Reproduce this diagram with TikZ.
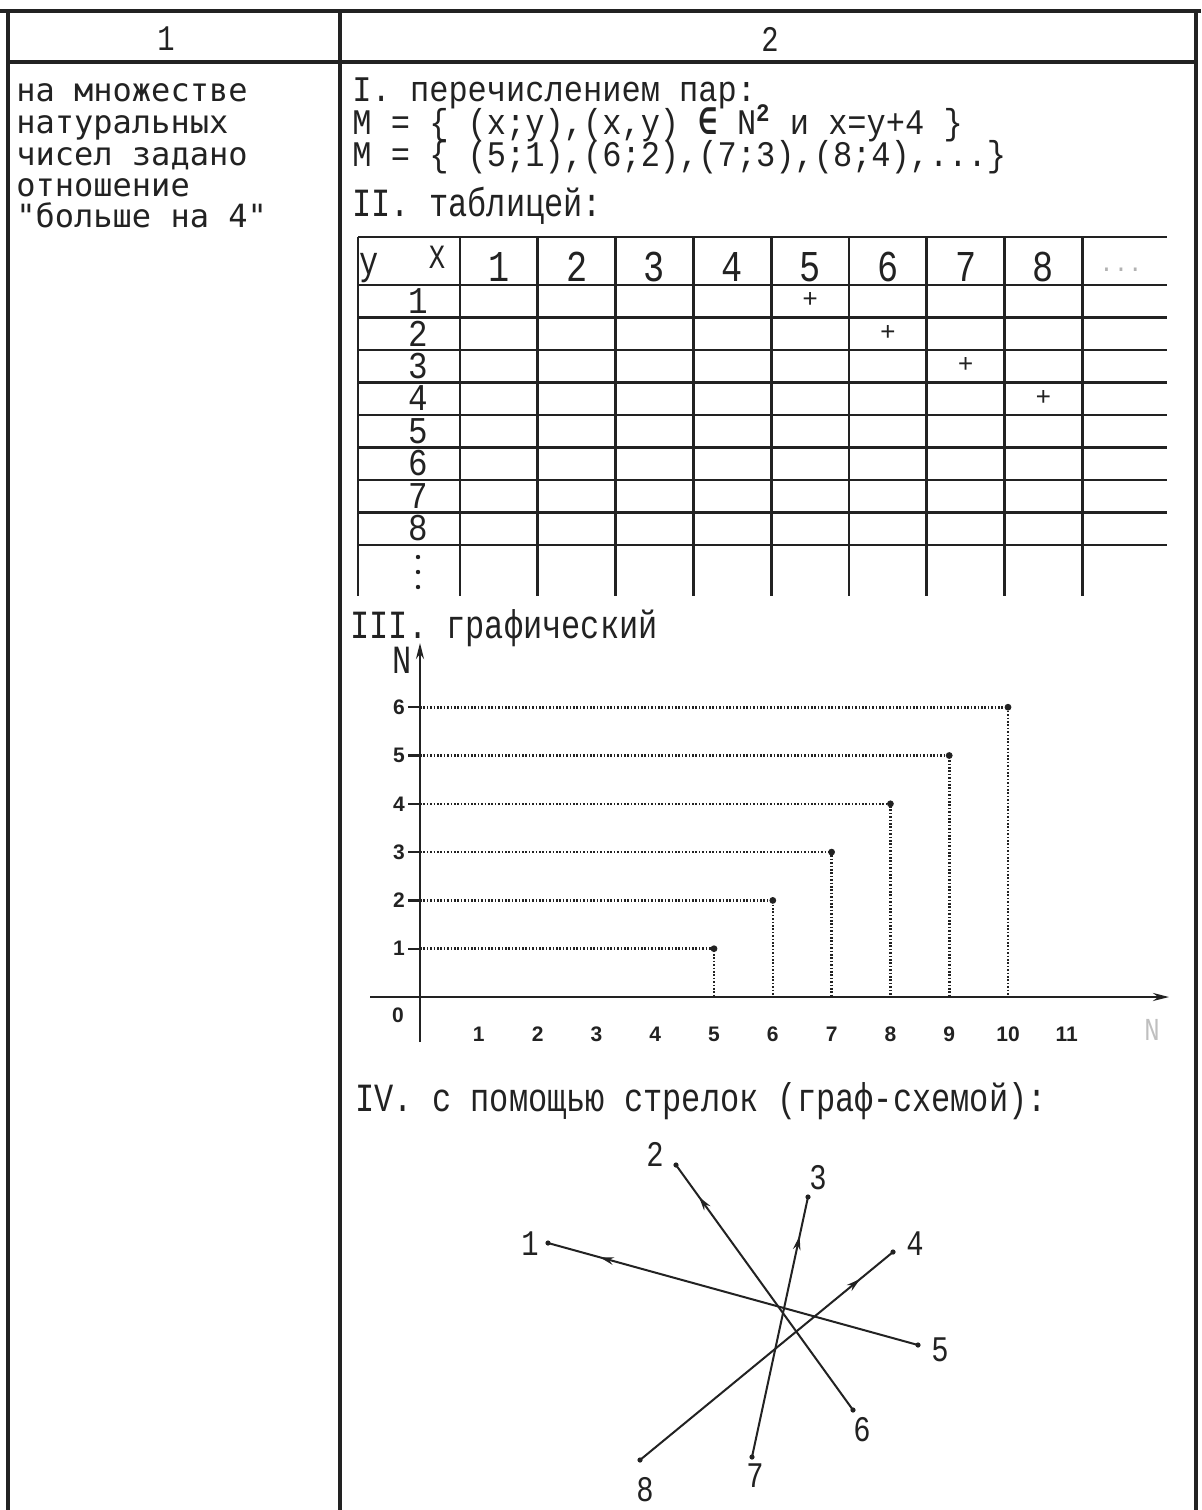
\documentclass[tikz,border=0pt]{standalone}
\usepackage{fontspec}
\setmainfont{Liberation Mono}
\newfontfamily\monofont{Liberation Mono}
\newfontfamily\sansmono{DejaVu Sans Mono}
\newfontfamily\lsans{Liberation Sans}
\usetikzlibrary{arrows.meta,decorations.markings}
\newcommand{\mtext}[1]{\scalebox{0.8}[1]{#1}}
\newcommand{\stext}[1]{\scalebox{0.89}[1]{#1}}
\newcommand{\rowdig}[1]{\scalebox{0.74}[0.86]{#1}}
\definecolor{ink}{HTML}{222222}
\begin{document}
\begin{tikzpicture}[x=0.5pt,y=-0.5pt,
  frame/.style={line width=1.6pt,draw=ink},
  framethick/.style={line width=2.2pt,draw=ink},
  tline/.style={line width=1.4pt,draw=ink},
  axis/.style={line width=1.2pt,draw=ink},
  dotline/.style={line width=1.3pt,draw=ink,dash pattern=on 0.8pt off 0.9pt},
  gline/.style={line width=1pt,draw=ink},
  ltext/.style={anchor=base west,inner sep=0pt,text=ink,font=\fontsize{16}{16}\sansmono},
  rtext/.style={anchor=base west,inner sep=0pt,text=ink,font=\fontsize{20}{20}\monofont},
  stxt/.style={anchor=base west,inner sep=0pt,text=ink,font=\fontsize{18}{18}\monofont},
  hdr/.style={inner sep=0pt,text=ink,font=\fontsize{18}{18}\monofont},
  tdig/.style={inner sep=0pt,text=ink,font=\fontsize{22}{22}\monofont},
  plus/.style={inner sep=0pt,text=ink,font=\fontsize{13}{13}\monofont},
  glab/.style={inner sep=0pt,text=ink,font=\fontsize{10.5}{10.5}\lsans\bfseries},
  nlab/.style={inner sep=0pt,text=ink,font=\fontsize{18}{18}\monofont},
  midarrow/.style={postaction={decorate},decoration={markings,
     mark=at position #1 with {\arrow{Stealth[length=7pt,width=3.8pt]}}}},
]
\useasboundingbox (0,0) rectangle (1201,1510);
\fill[white] (0,0) rectangle (1201,1510);

% ---------- frame ----------
\coordinate (tl) at (0,11);
\coordinate (tr) at (1201,11);
\coordinate (hl) at (8,62);
\coordinate (hr) at (1196,62);
\coordinate (lt) at (8,11);
\coordinate (lb) at (8,1510);
\coordinate (mt) at (340,11);
\coordinate (mb) at (340,1510);
\coordinate (rt) at (1196,11);
\coordinate (rb) at (1196,1510);
\draw[framethick] (tl) -- (tr);
\draw[framethick] (hl) -- (hr);
\draw[frame] (lt) -- (lb);
\draw[frame] (mt) -- (mb);
\draw[frame] (rt) -- (rb);

\node[hdr] (h1) at (166,39) {\mtext{1}};
\node[hdr] (h2) at (770,39) {\mtext{2}};

% ---------- column 1 ----------
\node[ltext] (l1) at (16,101) {на множестве};
\node[ltext] (l2) at (16,133) {натуральных};
\node[ltext] (l3) at (16,165) {чисел задано};
\node[ltext] (l4) at (16,196) {отношение};
\node[ltext] (l5) at (16,227) {"больше на 4"};

% ---------- section I, II ----------
\node[stxt] (s1) at (352,101) {\stext{I. перечислением пар:}};
\node[stxt] (s1a) at (352,134) {\stext{M = \{ (x;y),(x,y) {\sansmono\bfseries ∈} N\textsuperscript{\bfseries 2} и x=y+4 \}}};
\node[stxt] (s1b) at (352,166) {\stext{M = \{ (5;1),(6;2),(7;3),(8;4),...\}}};
\node[rtext] (s2) at (352,216) {\mtext{II. таблицей:}};

% ---------- table ----------
\coordinate (ttl) at (358,237);
\coordinate (ttr) at (1167,237);
\draw[tline] (ttl) -- (ttr);
\foreach \i in {0,...,8}{
  \pgfmathsetmacro\yy{285+\i*32.5}
  \coordinate (hl\i) at (358,\yy);
  \coordinate (hr\i) at (1167,\yy);
  \draw[tline] (hl\i) -- (hr\i);
}
\coordinate (vt0) at (358,237);
\coordinate (vb0) at (358,596);
\draw[tline] (vt0) -- (vb0);
\foreach \k in {0,...,8}{
  \pgfmathsetmacro\xx{460+\k*77.8}
  \coordinate (vt\k) at (\xx,237);
  \coordinate (vb\k) at (\xx,596);
  \draw[tline] (vt\k) -- (vb\k);
}
\node[inner sep=0pt,text=ink,font=\fontsize{20}{20}\monofont] (ty) at (369,268) {\mtext{y}};
\node[inner sep=0pt,text=ink,font=\fontsize{17}{17}\monofont] (tx) at (437,257) {\mtext{X}};
\foreach \k in {1,...,8}{
  \pgfmathsetmacro\xx{460+(\k-0.5)*77.8}
  \node[tdig] (c\k) at (\xx,267) {\mtext{\k}};
}
\node[inner sep=0pt,text=gray!60,font=\fontsize{12}{12}\monofont] (cdots) at (1121,270) {...};
\foreach \r in {1,...,8}{
  \pgfmathsetmacro\yy{301+(\r-1)*32.5}
  \node[tdig] (r\r) at (418,\yy) {\rowdig{\r}};
}
\foreach \r in {1,...,4}{
  \pgfmathsetmacro\yy{300+(\r-1)*32.5}
  \pgfmathsetmacro\xx{460+(\r+4-0.5)*77.8}
  \node[plus] (pl\r) at (\xx,\yy) {+};
}
\fill[ink] (418,557) circle[radius=1.1pt];
\fill[ink] (418,572) circle[radius=1.1pt];
\fill[ink] (418,587) circle[radius=1.1pt];

% ---------- section III ----------
\node[rtext] (s3) at (350,638) {\mtext{III. графический}};
\coordinate (O) at (420,997);
\coordinate (yb) at (420,1042);
\coordinate (yt) at (420,643);
\coordinate (xl) at (370,997);
\coordinate (xr) at (1169,997);
\draw[axis,-{Stealth[length=8pt,width=4pt]}] (yb) -- (yt);
\draw[axis,-{Stealth[length=8pt,width=4pt]}] (xl) -- (xr);
\node[rtext,anchor=center] (yN) at (402,660) {\mtext{N}};
\node[inner sep=0pt,text=gray!50,font=\fontsize{16}{16}\monofont] (xN) at (1152,1030) {\mtext{N}};
\node[glab] (o0) at (398,1015) {0};
\foreach \j in {1,...,6}{
  \pgfmathsetmacro\px{420+(\j+4)*58.8}
  \pgfmathsetmacro\py{997-\j*48.3}
  \coordinate (gp\j) at (\px,\py);
  \coordinate (ya\j) at (420,\py);
  \coordinate (xa\j) at (\px,997);
  \coordinate (tk\j) at (408,\py);
  \draw[dotline] (ya\j) -- (gp\j) -- (xa\j);
  \draw[axis] (tk\j) -- (ya\j);
  \fill[ink] (gp\j) circle[radius=1.7pt];
  \node[glab] (yl\j) at (399,\py) {\j};
}
\foreach \k in {1,...,11}{
  \pgfmathsetmacro\px{420+\k*58.8}
  \node[glab] (xl\k) at (\px,1034) {\k};
}

% ---------- section IV ----------
\node[rtext] (s4) at (355,1111) {\mtext{IV. с помощью стрелок (граф-схемой):}};
\coordinate (p1) at (548,1243);
\coordinate (p2) at (676,1165);
\coordinate (p3) at (808,1197);
\coordinate (p4) at (893,1252);
\coordinate (p5) at (918,1345);
\coordinate (p6) at (853,1410);
\coordinate (p7) at (752,1457);
\coordinate (p8) at (640,1460);
\node[nlab] (n1) at (530,1244) {\mtext{1}};
\node[nlab] (n2) at (655,1154) {\mtext{2}};
\node[nlab] (n3) at (818,1178) {\mtext{3}};
\node[nlab] (n4) at (915,1244) {\mtext{4}};
\node[nlab] (n5) at (940,1350) {\mtext{5}};
\node[nlab] (n6) at (862,1430) {\mtext{6}};
\node[nlab] (n7) at (755,1476) {\mtext{7}};
\node[nlab] (n8) at (645,1490) {\mtext{8}};
\draw[gline,midarrow=0.86] (p5) -- (p1);
\draw[gline,midarrow=0.87] (p6) -- (p2);
\draw[gline,midarrow=0.85] (p7) -- (p3);
\draw[gline,midarrow=0.87] (p8) -- (p4);
\foreach \i in {1,...,8}{\fill[ink] (p\i) circle[radius=1.3pt];}
\end{tikzpicture}
\end{document}
